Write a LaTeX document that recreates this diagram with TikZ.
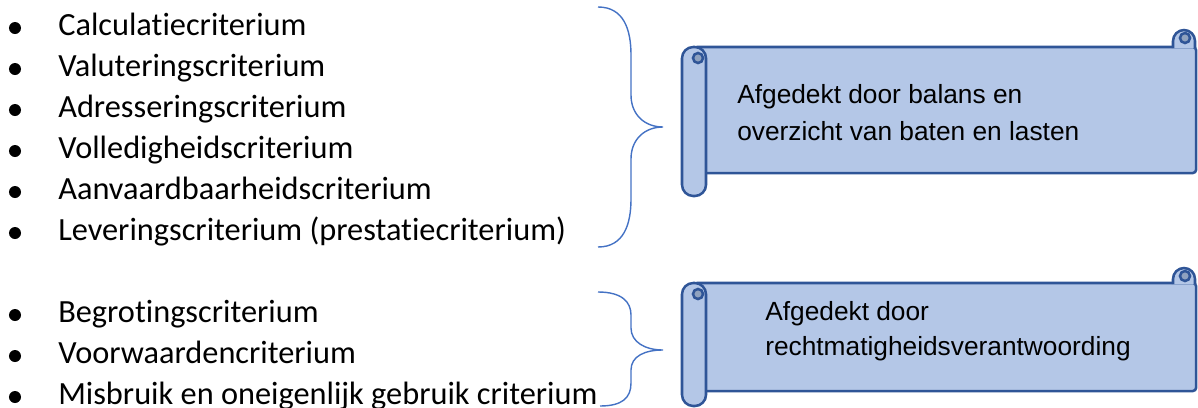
\documentclass[tikz,border=0pt]{standalone}
\usepackage{fontspec}
\setmainfont{Carlito}[Ligatures={NoCommon,NoRequired,NoContextual}]
\newfontfamily\arialfont{Liberation Sans}
\usetikzlibrary{positioning}

\definecolor{scrollfill}{HTML}{B4C7E7}
\definecolor{scrolledge}{HTML}{2F5597}
\definecolor{curlfill}{HTML}{8FA2BF}
\definecolor{bracecol}{HTML}{4472C4}

\begin{document}
\begin{tikzpicture}[x=0.025cm, y=-0.025cm,
    item/.style={anchor=base west, inner sep=0pt, font=\fontsize{23}{28}\selectfont},
    dot/.style={circle, fill=black, inner sep=0pt, minimum size=0.3cm},
    scroll/.style={draw=scrolledge, line width=1.8pt, fill=scrollfill, rounded corners=0.08cm, minimum width=12.55cm},
    edge/.style={draw=scrolledge, line width=1.8pt},
    boxtext/.style={anchor=base west, inner sep=0pt, font=\arialfont\fontsize{18.7}{24}\selectfont},
    brace/.style={draw=bracecol, line width=1pt}
]
\useasboundingbox (0,0) rectangle (1198,408);

% First list
\node[dot] (b1) at (15,28) {};
\node[item] (crit1) at (58,35) {Calculatiecriterium};
\node[dot] (b2) at (15,69) {};
\node[item] (crit2) at (58,76) {Valuteringscriterium};
\node[dot] (b3) at (15,110) {};
\node[item] (crit3) at (58,117) {Adresseringscriterium};
\node[dot] (b4) at (15,151) {};
\node[item] (crit4) at (58,158) {Volledigheidscriterium};
\node[dot] (b5) at (15,192) {};
\node[item] (crit5) at (58,199) {Aanvaardbaarheidscriterium};
\node[dot] (b6) at (15,233) {};
\node[item] (crit6) at (58,240) {Leveringscriterium (prestatiecriterium)};

% Second list
\node[dot] (b7) at (15,315) {};
\node[item] (crit7) at (58,322) {Begrotingscriterium};
\node[dot] (b8) at (15,356) {};
\node[item] (crit8) at (58,363) {Voorwaardencriterium};
\node[dot] (b9) at (15,397) {};
\node[item] (crit9) at (58,404) {Misbruik en oneigenlijk gebruik criterium};

% Braces
\draw[brace] (598,7) .. controls (624,7) and (631,30) .. (631,55) -- (631,95)
    .. controls (631,115) and (645,127) .. (663,127)
    .. controls (645,127) and (631,139) .. (631,159) -- (631,199)
    .. controls (631,224) and (624,247) .. (598,247);
\draw[brace] (598,292) .. controls (622,292) and (631,302) .. (631,315) -- (631,328)
    .. controls (631,342) and (645,350) .. (663,350)
    .. controls (645,350) and (631,356) .. (631,370) -- (631,383)
    .. controls (631,398) and (622,406) .. (600,406);

% Upper scroll
\node[scroll, minimum height=3.15cm] (box1) at (945,110) {};
\draw[edge, fill=scrollfill] (1173,48) -- (1173,41) arc[start angle=180, end angle=360, radius=11] -- (1195,48);
\draw[edge, fill=curlfill] (1185,38) circle[radius=5];
\draw[edge, fill=scrollfill, rounded corners=0.28cm] (682,47) rectangle (706,196);
\draw[edge, fill=curlfill] (698,58) circle[radius=5];
\node[boxtext] (txt1) at (737,103) {Afgedekt door balans en};
\node[boxtext] (txt2) at (737,140) {overzicht van baten en lasten};

% Lower scroll
\node[scroll, minimum height=2.7cm] (box2) at (945,337) {};
\draw[edge, fill=scrollfill] (1173,284) -- (1173,279) arc[start angle=180, end angle=360, radius=11] -- (1195,284);
\draw[edge, fill=curlfill] (1185,276) circle[radius=5];
\draw[edge, fill=scrollfill, rounded corners=0.28cm] (682,283) rectangle (706,406);
\draw[edge, fill=curlfill] (698,294) circle[radius=5];
\node[boxtext] (txt3) at (765,320) {Afgedekt door};
\node[boxtext] (txt4) at (765,355) {rechtmatigheidsverantwoording};

\end{tikzpicture}
\end{document}
